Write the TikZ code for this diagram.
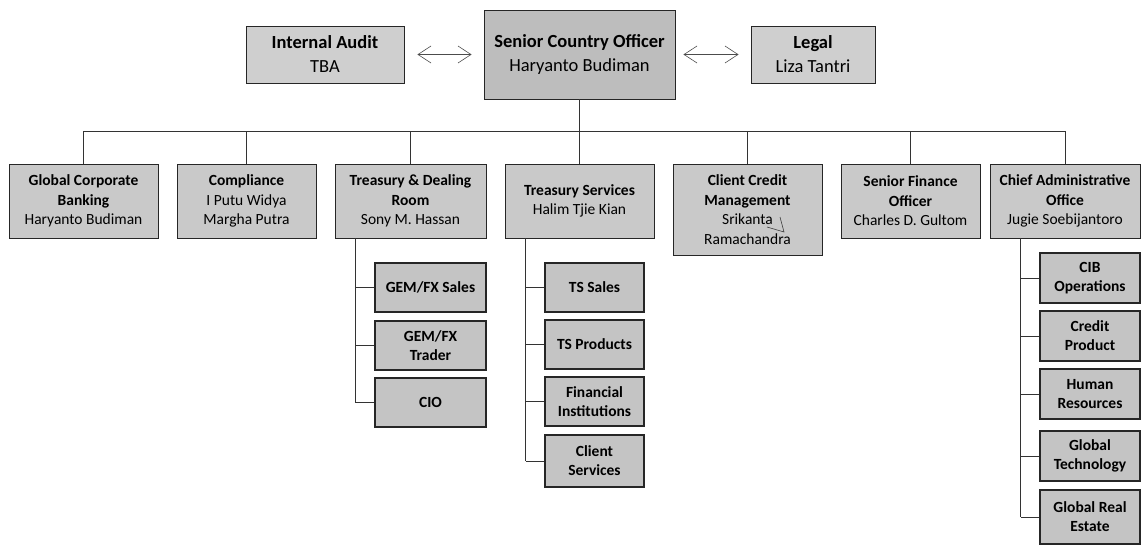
\documentclass[tikz,border=0pt]{standalone}
\usepackage{fontspec}
\setmainfont{Carlito}
\usetikzlibrary{arrows.meta,calc}

\begin{document}
\begin{tikzpicture}[x=1pt, y=-1pt,
    caja/.style={draw=black!85, fill=gray!42, line width=0.9pt, align=center,
        inner sep=0pt, font=\fontsize{15.5}{19.5}\selectfont},
    jefe/.style={caja, fill=gray!38, font=\fontsize{18.5}{24}\selectfont},
    sub/.style={caja, line width=1.2pt, fill=gray!46,
        font=\fontsize{15.5}{19}\selectfont\bfseries},
    linea/.style={black!80, line width=0.8pt},
    doble/.style={black!70, line width=0.6pt,
        {Straight Barb[length=13pt,width=17pt]}-{Straight Barb[length=13pt,width=17pt]}}]
    \useasboundingbox (0,0) rectangle (1141,554);

    % Fila superior
    \node[jefe, minimum width=158pt, minimum height=57pt] (ia) at (325,54.5)
        {\textbf{Internal Audit}\\TBA};
    \node[jefe, fill=gray!52, minimum width=191pt, minimum height=89pt] (sco) at (579.5,54.5)
        {\textbf{Senior Country Officer}\\Haryanto Budiman};
    \node[jefe, minimum width=124pt, minimum height=57pt] (legal) at (813,54.5)
        {\textbf{Legal}\\Liza Tantri};

    \draw[doble, shorten <=13pt, shorten >=12pt] (ia.east) -- (sco.west);
    \draw[doble, shorten <=8pt, shorten >=12pt] (sco.east) -- (legal.west);

    % Segunda fila
    \node[caja, minimum width=149pt, minimum height=74pt] (gcb) at (83.5,201)
        {\textbf{Global Corporate}\\\textbf{Banking}\\Haryanto Budiman};
    \node[caja, minimum width=139pt, minimum height=74pt] (comp) at (246.5,201)
        {\textbf{Compliance}\\I Putu Widya\\Margha Putra};
    \node[caja, minimum width=151pt, minimum height=74pt] (td) at (410.5,201)
        {\textbf{Treasury \& Dealing}\\\textbf{Room}\\Sony M. Hassan};
    \node[caja, minimum width=149pt, minimum height=74pt] (ts) at (579.5,201)
        {\textbf{Treasury Services}\\Halim Tjie Kian};
    \node[caja, minimum width=149pt, minimum height=91pt] (ccm) at (747.5,209.5)
        {\textbf{Client Credit}\\\textbf{Management}\\Srikanta\\Ramachandra};
    \node[caja, minimum width=139pt, minimum height=74pt] (sfo) at (910.5,201)
        {\textbf{Senior Finance}\\\textbf{Officer}\\Charles D. Gultom};
    \node[caja, minimum width=150pt, minimum height=74pt] (cao) at (1065,201)
        {\textbf{Chief Administrative}\\\textbf{Office}\\Jugie Soebijantoro};

    % marca a mano junto a Srikanta
    \draw[black!75, line width=0.6pt] (767,227) -- (784,232) -- (780,217);

    % Barra horizontal
    \coordinate (bus) at (0,131);
    \draw[linea] (sco.south) -- (sco.south |- bus);
    \draw[linea] (gcb.north |- bus) -- (cao.north |- bus);
    \foreach \n in {gcb,comp,td,ts,ccm,sfo,cao}
        \draw[linea] (\n.north |- bus) -- (\n.north);

    % Treasury & Dealing Room
    \node[sub, minimum width=111pt, minimum height=49pt] (gems) at (430.5,287.5) {GEM/FX Sales};
    \node[sub, minimum width=111pt, minimum height=49pt] (gemt) at (430.5,345.5) {GEM/FX\\Trader};
    \node[sub, minimum width=111pt, minimum height=49pt] (cio) at (430.5,402.5) {CIO};
    \coordinate (tdv) at ($(td.south west)+(21,0)$);
    \draw[linea] (tdv) -- (tdv |- cio.west);
    \foreach \n in {gems,gemt,cio}
        \draw[linea] (tdv |- \n.west) -- (\n.west);

    % Treasury Services
    \node[sub, minimum width=99pt, minimum height=49pt] (tss) at (594.5,287.5) {TS Sales};
    \node[sub, minimum width=99pt, minimum height=49pt] (tsp) at (594.5,344.5) {TS Products};
    \node[sub, minimum width=99pt, minimum height=49pt] (fin) at (594.5,401.5) {Financial\\Institutions};
    \node[sub, minimum width=99pt, minimum height=52pt] (cli) at (594.5,461) {Client\\Services};
    \coordinate (tsv) at ($(ts.south west)+(21,0)$);
    \draw[linea] (tsv) -- (tsv |- cli.west);
    \foreach \n in {tss,tsp,fin,cli}
        \draw[linea] (tsv |- \n.west) -- (\n.west);

    % Chief Administrative Office
    \node[sub, minimum width=100pt, minimum height=50pt] (cib) at (1090,278) {CIB\\Operations};
    \node[sub, minimum width=100pt, minimum height=50pt] (cred) at (1090,336) {Credit\\Product};
    \node[sub, minimum width=100pt, minimum height=50pt] (hr) at (1090,394) {Human\\Resources};
    \node[sub, minimum width=100pt, minimum height=50pt] (tec) at (1090,456) {Global\\Technology};
    \node[sub, minimum width=100pt, minimum height=54pt] (re) at (1090,517) {Global Real\\Estate};
    \coordinate (caov) at ($(cao.south west)+(31,0)$);
    \draw[linea] (caov) -- (caov |- re.west);
    \foreach \n in {cib,cred,hr,tec,re}
        \draw[linea] (caov |- \n.west) -- (\n.west);
\end{tikzpicture}
\end{document}
